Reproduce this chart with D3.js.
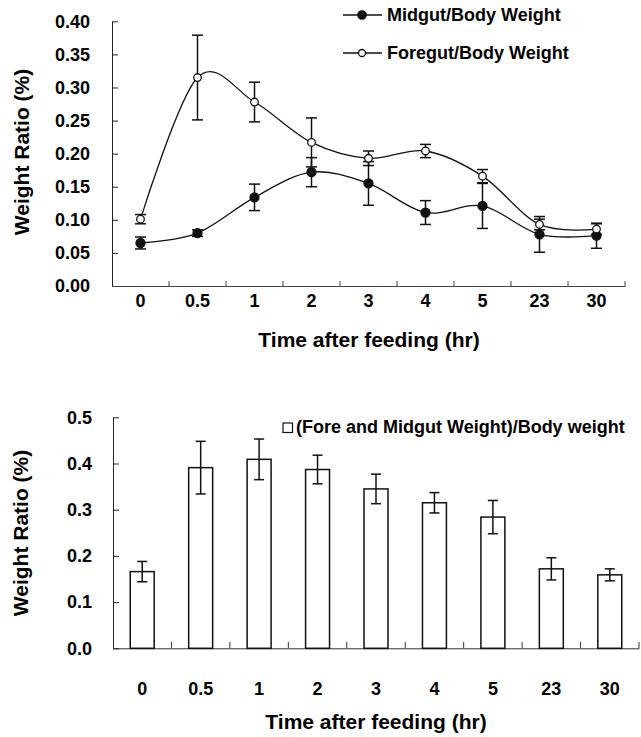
<!DOCTYPE html>
<html>
<head>
<meta charset="utf-8">
<script src="https://cdn.jsdelivr.net/npm/d3@7"></script>
<style>
  body { margin: 0; background: #fff; }
  svg { display: block; font-family: "Liberation Sans", Arial, sans-serif; font-weight: bold; }
</style>
</head>
<body>
<div id="chart"></div>
<script>
// time points (hr) and measured ratios (%)
const times = ["0", "0.5", "1", "2", "3", "4", "5", "23", "30"];
const midgut = [0.065, 0.080, 0.134, 0.172, 0.155, 0.111, 0.121, 0.078, 0.076];
const midgutErr = [0.009, 0.005, 0.020, 0.022, 0.033, 0.018, 0.034, 0.027, 0.019];
const foregut = [0.101, 0.315, 0.278, 0.217, 0.193, 0.204, 0.166, 0.093, 0.086];
const foregutErr = [0.007, 0.064, 0.030, 0.037, 0.011, 0.010, 0.010, 0.008, 0.008];
const combined = [0.166, 0.391, 0.409, 0.387, 0.345, 0.315, 0.284, 0.172, 0.159];
const combinedErr = [0.022, 0.057, 0.044, 0.031, 0.032, 0.022, 0.036, 0.024, 0.013];
const topTicks = [0, 0.05, 0.10, 0.15, 0.20, 0.25, 0.30, 0.35, 0.40];
const bottomTicks = [0, 0.1, 0.2, 0.3, 0.4, 0.5];

const svg = d3.select("#chart").append("svg").attr("width", 641).attr("height", 737);

// ---------- top chart: line plot ----------
const x1 = d3.scaleBand().domain(times).range([112, 625]).padding(0);
const y1 = d3.scaleLinear().domain([0, 0.4]).range([286, 21.3]);
const cx1 = d => x1(d) + x1.bandwidth() / 2;

const gTop = svg.append("g");

gTop.append("g").attr("transform", "translate(112,0)")
  .call(d3.axisLeft(y1).tickValues(topTicks).tickFormat(d3.format(".2f")).tickSize(-6).tickSizeOuter(0).tickPadding(22))
  .call(g => g.selectAll("text").attr("font-size", 18).attr("fill", "#000"))
  .call(g => g.selectAll("line,path").attr("stroke", "#222"));

gTop.append("g").attr("transform", "translate(0,286)")
  .call(d3.axisBottom(x1).tickSize(0).tickSizeOuter(0).tickPadding(8))
  .call(g => g.selectAll("text").attr("font-size", 18).attr("fill", "#000"))
  .call(g => g.select("path").attr("stroke", "#444"));

// small boundary ticks on the x axis
gTop.append("g").selectAll("line").data(times).join("line")
  .attr("x1", d => x1(d) + x1.step()).attr("x2", d => x1(d) + x1.step())
  .attr("y1", 286).attr("y2", 281).attr("stroke", "#444");

const line1 = d3.line().x(d => cx1(d.t)).y(d => y1(d.v)).curve(d3.curveCardinal.tension(0));

const series = [
  {name: "Midgut/Body Weight", values: midgut, errs: midgutErr, filled: true},
  {name: "Foregut/Body Weight", values: foregut, errs: foregutErr, filled: false}
];

series.forEach(s => {
  const pts = times.map((t, i) => ({t: t, v: s.values[i], e: s.errs[i]}));
  gTop.append("path").datum(pts).attr("d", line1)
    .attr("fill", "none").attr("stroke", "#111").attr("stroke-width", 1.3);
  const eb = gTop.append("g").selectAll("g").data(pts).join("g").attr("stroke", "#111").attr("stroke-width", 1.5);
  eb.append("line").attr("x1", d => cx1(d.t)).attr("x2", d => cx1(d.t))
    .attr("y1", d => y1(d.v + d.e)).attr("y2", d => y1(d.v - d.e));
  eb.append("line").attr("x1", d => cx1(d.t) - 5.5).attr("x2", d => cx1(d.t) + 5.5)
    .attr("y1", d => y1(d.v + d.e)).attr("y2", d => y1(d.v + d.e));
  eb.append("line").attr("x1", d => cx1(d.t) - 5.5).attr("x2", d => cx1(d.t) + 5.5)
    .attr("y1", d => y1(d.v - d.e)).attr("y2", d => y1(d.v - d.e));
  gTop.append("g").selectAll("circle").data(pts).join("circle")
    .attr("cx", d => cx1(d.t)).attr("cy", d => y1(d.v))
    .attr("r", s.filled ? 4.5 : 3.8)
    .attr("fill", s.filled ? "#111" : "#fff").attr("stroke", "#111").attr("stroke-width", 1.3);
});

// legend
const legTop = gTop.append("g").selectAll("g").data(series).join("g")
  .attr("transform", (d, i) => `translate(343,${15 + i * 38})`);
legTop.append("line").attr("x1", 0).attr("x2", 39).attr("stroke", "#111").attr("stroke-width", 1.3);
legTop.append("circle").attr("cx", 19).attr("r", d => d.filled ? 4.2 : 3.5)
  .attr("fill", d => d.filled ? "#111" : "#fff").attr("stroke", "#111").attr("stroke-width", 1.3);
legTop.append("text").attr("x", 44).attr("dy", "0.35em").attr("font-size", 18).text(d => d.name);

gTop.append("text").attr("transform", "translate(29,152) rotate(-90)")
  .attr("text-anchor", "middle").attr("font-size", 21).text("Weight Ratio (%)");
gTop.append("text").attr("x", 369).attr("y", 347)
  .attr("text-anchor", "middle").attr("font-size", 21).text("Time after feeding (hr)");

// ---------- bottom chart: bar plot ----------
const x2 = d3.scaleBand().domain(times).range([113, 639]).paddingInner(0.59).paddingOuter(0.295);
const y2 = d3.scaleLinear().domain([0, 0.5]).range([648.3, 417.3]);
const cx2 = d => x2(d) + x2.bandwidth() / 2;

const gBot = svg.append("g");

gBot.append("g").attr("transform", "translate(113,0)")
  .call(d3.axisLeft(y2).tickValues(bottomTicks).tickFormat(d3.format(".1f")).tickSize(-6).tickSizeOuter(0).tickPadding(21))
  .call(g => g.selectAll("text").attr("font-size", 18).attr("fill", "#000"))
  .call(g => g.selectAll("line,path").attr("stroke", "#222"));

gBot.append("g").attr("transform", "translate(0,648.3)")
  .call(d3.axisBottom(x2).tickSize(0).tickSizeOuter(0).tickPadding(34))
  .call(g => g.selectAll("text").attr("font-size", 18).attr("fill", "#000"))
  .call(g => g.select("path").attr("stroke", "#333"));

gBot.append("g").selectAll("line").data(times).join("line")
  .attr("x1", d => cx2(d) + x2.step() / 2).attr("x2", d => cx2(d) + x2.step() / 2)
  .attr("y1", 648.3).attr("y2", 642).attr("stroke", "#333");

const bars = times.map((t, i) => ({t: t, v: combined[i], e: combinedErr[i]}));

gBot.append("g").selectAll("rect").data(bars).join("rect")
  .attr("x", d => x2(d.t)).attr("width", x2.bandwidth())
  .attr("y", d => y2(d.v)).attr("height", d => y2(0) - y2(d.v))
  .attr("fill", "#fff").attr("stroke", "#111").attr("stroke-width", 1.5);

const eb2 = gBot.append("g").selectAll("g").data(bars).join("g").attr("stroke", "#111").attr("stroke-width", 1.5);
eb2.append("line").attr("x1", d => cx2(d.t)).attr("x2", d => cx2(d.t))
  .attr("y1", d => y2(d.v + d.e)).attr("y2", d => y2(d.v - d.e));
eb2.append("line").attr("x1", d => cx2(d.t) - 5).attr("x2", d => cx2(d.t) + 5)
  .attr("y1", d => y2(d.v + d.e)).attr("y2", d => y2(d.v + d.e));
eb2.append("line").attr("x1", d => cx2(d.t) - 5).attr("x2", d => cx2(d.t) + 5)
  .attr("y1", d => y2(d.v - d.e)).attr("y2", d => y2(d.v - d.e));

gBot.append("rect").attr("x", 283).attr("y", 423).attr("width", 9.5).attr("height", 9.5)
  .attr("fill", "#fff").attr("stroke", "#111").attr("stroke-width", 1.2);
gBot.append("text").attr("x", 296).attr("y", 433).attr("font-size", 18)
  .text("(Fore and Midgut Weight)/Body weight");

gBot.append("text").attr("transform", "translate(28,533) rotate(-90)")
  .attr("text-anchor", "middle").attr("font-size", 21).text("Weight Ratio (%)");
gBot.append("text").attr("x", 376).attr("y", 729)
  .attr("text-anchor", "middle").attr("font-size", 21).text("Time after feeding (hr)");
</script>
</body>
</html>
